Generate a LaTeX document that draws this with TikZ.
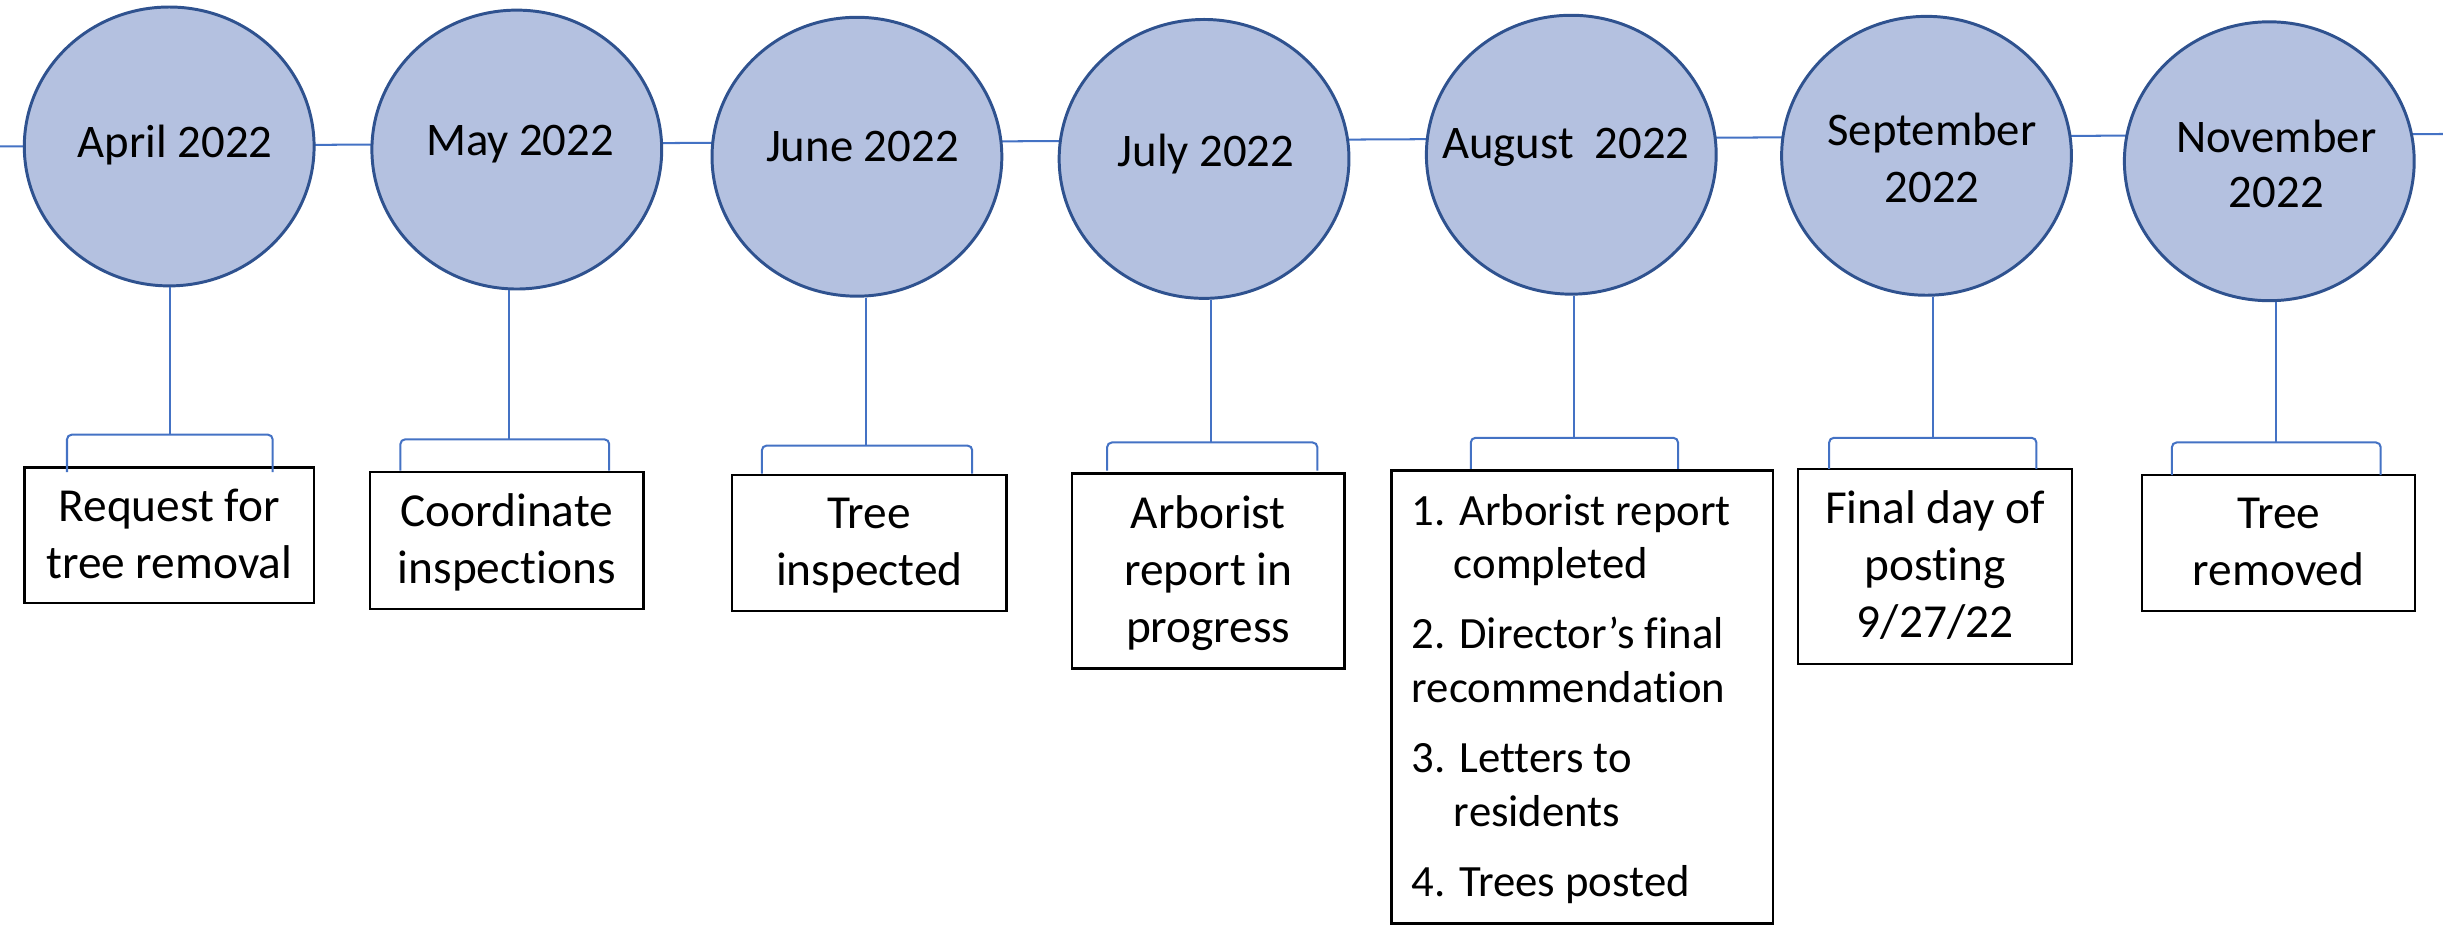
\documentclass[tikz,border=0pt]{standalone}
\usepackage{fontspec}
\setmainfont{Carlito}[Ligatures=NoCommon]
\usetikzlibrary{shapes.geometric}
\definecolor{circF}{RGB}{180,193,224}
\definecolor{circB}{RGB}{47,82,143}
\definecolor{lineB}{RGB}{68,114,196}
\tikzset{
  circ/.style={ellipse, draw=circB, fill=circF, line width=1.9pt, minimum width=186pt, minimum height=179pt, inner sep=0pt},
  conn/.style={draw=lineB, line width=1.3pt},
  brk/.style={draw=lineB, line width=1.3pt, rounded corners=3pt},
  box/.style={draw=black, line width=1.5pt, inner sep=0pt, fill=white},
  lbl/.style={anchor=base, inner sep=0pt, font=\fontsize{30}{36.3}\selectfont},
  btxt/.style={anchor=base, inner sep=0pt, font=\fontsize{30.4}{36.5}\selectfont},
}
\begin{document}
\begin{tikzpicture}[x=1pt,y=-1pt]
\useasboundingbox (0,0) rectangle (1568,594);
% timeline
\coordinate (tl) at (0,94);
\coordinate (tr) at (1568,86);
\draw[conn] (tl) -- (tr);
% circles
\node[circ] (c1) at (108.6,94) {};
\node[circ] (c2) at (331.7,96) {};
\node[circ] (c3) at (550,100.6) {};
\node[circ] (c4) at (772.8,102) {};
\node[circ] (c5) at (1008.5,99.3) {};
\node[circ] (c6) at (1236.5,100) {};
\node[circ] (c7) at (1456.5,103.5) {};
% circle labels
\node[lbl] (t1) at (112.4,101) {April 2022};
\node[lbl] (t2) at (333.8,100) {May 2022};
\node[lbl] (t3) at (553.5,103.8) {June 2022};
\node[lbl] (t4) at (774,107) {July 2022};
\node[lbl] (t5) at (1005,101.8) {August\ \ 2022};
\node[lbl] (t6) at (1240,93.7) {\parbox[t]{180pt}{\centering September\\2022}};
\node[lbl, font=\fontsize{30}{35}\selectfont] (t7) at (1461,98) {\parbox[t]{180pt}{\centering November\\2022}};
% boxes
\node[box, minimum width=185.7pt, minimum height=87pt] (b1) at (108.65,343.5) {};
\node[box, minimum width=175.5pt, minimum height=88pt] (b2) at (325.25,347) {};
\node[box, minimum width=176pt, minimum height=87pt] (b3) at (558,348.5) {};
\node[box, minimum width=175pt, minimum height=125pt] (b4) at (775.5,366.5) {};
\node[box, minimum width=245pt, minimum height=290.8pt] (b5) at (1015.5,447.4) {};
\node[box, minimum width=176pt, minimum height=125pt] (b6) at (1242,363.5) {};
\node[box, minimum width=175pt, minimum height=87pt] (b7) at (1462.5,348.5) {};
% box texts
\node[btxt] (x1) at (108.65,334.5) {\parbox[t]{180pt}{\centering Request for\\tree removal}};
\node[btxt] (x2) at (325.25,338) {\parbox[t]{170pt}{\centering Coordinate\\inspections}};
\node[btxt] (x3) at (558,339.5) {\parbox[t]{170pt}{\centering Tree\\inspected}};
\node[btxt] (x4) at (775.5,339.25) {\parbox[t]{170pt}{\centering Arborist\\report in\\progress}};
\node[btxt] (x6) at (1242,336.25) {\parbox[t]{170pt}{\centering Final day of\\posting\\9/27/22}};
\node[btxt] (x7) at (1462.5,339.5) {\parbox[t]{170pt}{\centering Tree\\removed}};
\node[anchor=base west, inner sep=0pt, font=\fontsize{28.7}{34.5}\selectfont] (x5) at (906,337)
  {\parbox[t]{230pt}{\raggedright
   1. Arborist report\\
   \hspace*{27pt}completed\\[10.5pt]
   2. Director’s final\\
   recommendation\\[10.5pt]
   3. Letters to\\
   \hspace*{27pt}residents\\[10.5pt]
   4. Trees posted}};
% stems and brackets
\coordinate (k1) at (109,279);
\coordinate (k2) at (327,282);
\coordinate (k3) at (556,286);
\coordinate (k4) at (777.4,284);
\coordinate (k5) at (1010,281);
\coordinate (k6) at (1240.5,281);
\coordinate (k7) at (1460.5,284);
\coordinate (l1) at (43,303);    \coordinate (r1) at (175,303);
\coordinate (l2) at (257,302);   \coordinate (r2) at (391,302);
\coordinate (l3) at (489,304);   \coordinate (r3) at (624,304);
\coordinate (l4) at (710.6,302); \coordinate (r4) at (845.5,302);
\coordinate (l5) at (944,301);   \coordinate (r5) at (1077,301);
\coordinate (l6) at (1174,301);  \coordinate (r6) at (1307,301);
\coordinate (l7) at (1394,305);  \coordinate (r7) at (1528,305);
\foreach \i in {1,...,7}{
  \draw[conn] (c\i.south -| k\i) -- (k\i);
  \draw[brk] (l\i) |- (k\i) -| (r\i);
}
\end{tikzpicture}
\end{document}
